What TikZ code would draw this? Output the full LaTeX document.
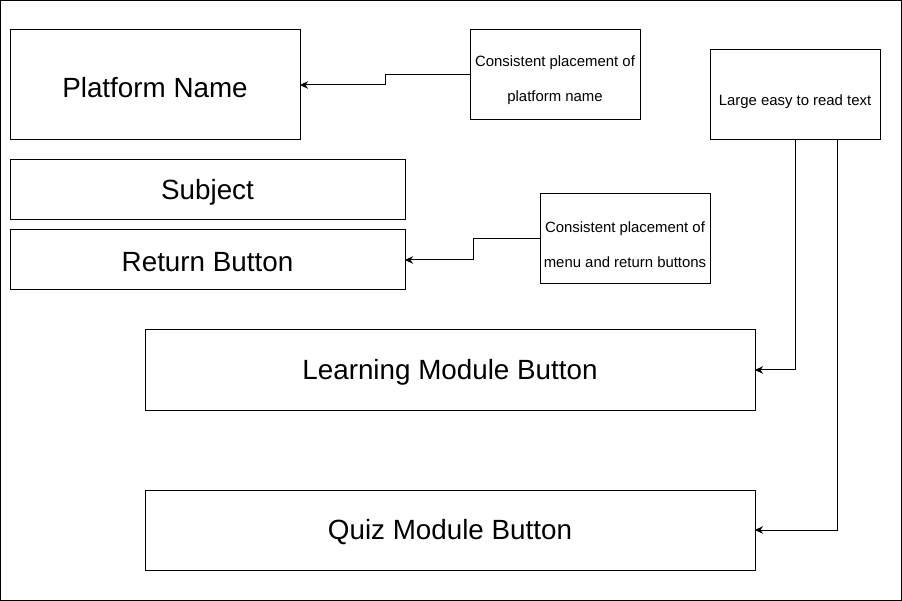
\documentclass[tikz,border=0pt]{standalone}
\usepackage{fontspec}
\setmainfont{Liberation Sans}
\usetikzlibrary{arrows.meta}
\newcommand{\lowtxt}[1]{\raisebox{-2.5pt}[\height][\depth]{#1}}
\begin{document}
\begin{tikzpicture}[x=1pt,y=-1pt,
  box/.style={draw=black, line width=1pt, inner sep=0pt, outer sep=0pt, align=center},
  bigtxt/.style={font=\fontsize{27.8}{33}\selectfont},
  smalltxt/.style={font=\fontsize{14.9}{35}\selectfont, align=center, inner sep=0pt},
  arr/.style={draw=black, line width=1pt, -{Stealth[length=8pt,width=7.5pt,inset=2.5pt]}}]
\useasboundingbox (0,0) rectangle (902,601);
\draw[line width=1pt] (0.5,0.5) rectangle (901.5,600.5);
% main boxes
\node[box,bigtxt,minimum width=290pt,minimum height=110pt] (pn) at (155,85) {\lowtxt{Platform Name}};
\node[box,bigtxt,minimum width=395pt,minimum height=60pt] (sj) at (207.5,190) {\lowtxt{Subject}};
\node[box,bigtxt,minimum width=395pt,minimum height=60pt] (rb) at (207.5,260) {\lowtxt{Return Button}};
\node[box,bigtxt,minimum width=610pt,minimum height=80pt] (lm) at (450,370) {\lowtxt{Learning Module Button}};
\node[box,bigtxt,minimum width=610pt,minimum height=80pt] (qm) at (450,530) {\lowtxt{Quiz Module Button}};
% annotation boxes
\node[box,minimum width=170pt,minimum height=90pt] (c1) at (555,75) {};
\node[smalltxt] (c1t) at ([yshift=-5.5pt]c1.center) {Consistent placement of\\platform name};
\node[box,minimum width=170pt,minimum height=90pt] (c2) at (625,239) {};
\node[smalltxt] (c2t) at ([yshift=-5.5pt]c2.center) {Consistent placement of\\menu and return buttons};
\node[box,minimum width=170pt,minimum height=90pt] (lt) at (795,95) {};
\node[smalltxt] (ltt) at ([yshift=-6.5pt]lt.center) {Large easy to read text};
% connectors
\draw[arr] (c1.west) -- ++(-85,0) |- (pn.east);
\draw[arr] (c2.west) -- ++(-67,0) |- (rb.east);
\draw[arr] (lt.south) |- (lm.east);
\draw[arr] ([xshift=42pt]lt.south) |- (qm.east);
\end{tikzpicture}
\end{document}
